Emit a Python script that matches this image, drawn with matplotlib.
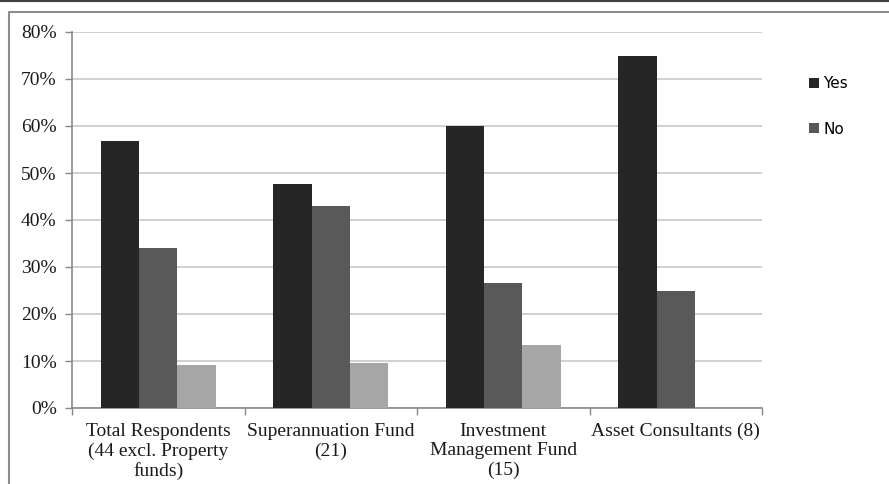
import numpy as np
import matplotlib.pyplot as plt
from matplotlib.lines import Line2D

categories = ["Total Respondents\n(44 excl. Property\nfunds)",
              "Superannuation Fund\n(21)",
              "Investment\nManagement Fund\n(15)",
              "Asset Consultants (8)"]
yes = [0.568, 0.476, 0.600, 0.750]
no = [0.341, 0.429, 0.267, 0.250]
other = [0.091, 0.095, 0.133, 0.0]

series = [("Yes", yes, "#262626"), ("No", no, "#595959"), ("_nolegend_", other, "#a6a6a6")]

fig = plt.figure(figsize=(8.89, 4.84), dpi=100)
ax = fig.add_axes([72 / 889, 1 - 408 / 484, 690 / 889, 376 / 484])

x = np.arange(len(categories))
w = 1 / 4.5
for i, (name, vals, col) in enumerate(series):
    ax.bar(x + (i - 1) * w, vals, w, color=col, label=name, zorder=3)

ax.set_xlim(-0.5, len(categories) - 0.5)
ax.set_ylim(0, 0.8)
ax.set_yticks(np.arange(0, 0.81, 0.1))
ax.set_yticklabels(["%d%%" % round(v * 100) for v in np.arange(0, 0.81, 0.1)],
                   family="Liberation Serif", fontsize=14, color="#1a1a1a")
ax.yaxis.grid(True, color="#c8c8c8", lw=1.2, zorder=0)

ax.set_xticks(x)
ax.set_xticklabels(categories, family="Liberation Serif", fontsize=14,
                   color="#1a1a1a", linespacing=1.2)
ax.tick_params(axis="x", length=0, pad=10.5)
ax.set_xticks(np.arange(-0.5, len(categories)), minor=True)
ax.tick_params(axis="x", which="minor", length=5, color="#888888", width=1)
ax.tick_params(axis="y", length=5, color="#888888", width=1, pad=6)

for s in ["top", "right"]:
    ax.spines[s].set_visible(False)
for s in ["left", "bottom"]:
    ax.spines[s].set_color("#888888")
    ax.spines[s].set_linewidth(1.2)

ax.legend(loc="upper left", bbox_to_anchor=(809 / 889, 1 - 76 / 484),
          bbox_transform=fig.transFigure, frameon=False,
          prop={"family": "DejaVu Sans", "size": 11},
          handlelength=0.65, handleheight=0.65, handletextpad=0.3,
          labelspacing=2.0, borderaxespad=0, borderpad=0)

# frame lines around the chart
fig.add_artist(Line2D([0, 1], [1 - 0.5 / 484, 1 - 0.5 / 484], color="#404040", lw=1.5,
                      transform=fig.transFigure))
fig.add_artist(Line2D([8.5 / 889, 8.5 / 889, 1], [0, 1 - 11.5 / 484, 1 - 11.5 / 484],
                      color="#8c8c8c", lw=1.5, transform=fig.transFigure))

fig.savefig("out.png", dpi=100)
